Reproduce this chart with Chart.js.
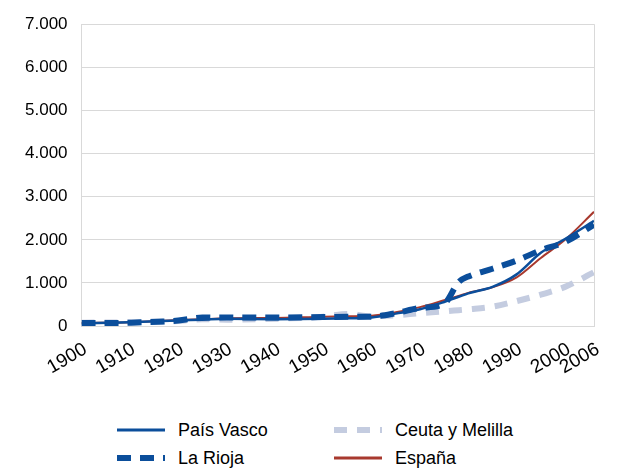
<!DOCTYPE html>
<html lang="es">
<head>
    <meta charset="UTF-8">
    <title>Evolución</title>
    <script src="https://cdn.jsdelivr.net/npm/chart.js"></script>
    <style>
        body {
            margin: 0;
            font-family: "Liberation Sans", Arial, sans-serif;
            background: #fff;
        }
        .chart-container {
            position: relative;
            width: 618px;
            height: 391px;
        }
        #legend {
            position: absolute;
            left: 117px;
            top: 416px;
            display: grid;
            grid-template-columns: 217px 200px;
            row-gap: 0;
        }
        .item {
            display: flex;
            align-items: center;
            height: 28px;
            font-size: 18px;
            color: #000;
        }
        .item svg {
            margin-right: 13px;
        }
    </style>
</head>
<body>
    <div class="chart-container">
        <canvas id="chart"></canvas>
    </div>
    <div id="legend"></div>

    <script>
        // años y valores
        const years        = [1900, 1910, 1920, 1925, 1930, 1940, 1950, 1955, 1960, 1965, 1970, 1975, 1978, 1980, 1985, 1990, 1995, 2000, 2006];
        const paisVasco    = [60, 90, 130, 150, 170, 160, 170, 180, 200, 290, 390, 560, 680, 760, 910, 1200, 1700, 2020, 2440];
        const laRioja      = [70, 80, 130, 200, 200, 200, 210, 215, 220, 300, 420, 520, 1020, 1150, 1330, 1520, 1760, 1950, 2350];
        const ceutaMelilla = [80, 90, 120, 160, 150, 170, 220, 280, 230, 250, 300, 340, 370, 390, 450, 580, 730, 910, 1250];
        const espana       = [70, 90, 140, 160, 180, 190, 220, 230, 240, 320, 440, 600, 700, 770, 900, 1130, 1580, 2000, 2650];
        const xTicks = [1900, 1910, 1920, 1930, 1940, 1950, 1960, 1970, 1980, 1990, 2000, 2006];

        const toPoints = arr => years.map((y, i) => ({ x: y, y: arr[i] }));

        const series = [
            { label: 'País Vasco', data: paisVasco, color: '#0b4e9b', width: 2.5, dash: [], order: 2 },
            { label: 'Ceuta y Melilla', data: ceutaMelilla, color: '#c4cce0', width: 6, dash: [13, 10], order: 4 },
            { label: 'La Rioja', data: laRioja, color: '#0b4e9b', width: 6, dash: [14, 9], order: 1 },
            { label: 'España', data: espana, color: '#a8392e', width: 2, dash: [], order: 3 }
        ];

        const grid = '#d9d9d9';
        const fmt = v => String(v).replace(/\B(?=(\d{3})+(?!\d))/g, '.');

        new Chart(document.getElementById('chart'), {
            type: 'line',
            data: {
                datasets: series.map(s => ({
                    label: s.label,
                    data: toPoints(s.data),
                    borderColor: s.color,
                    backgroundColor: s.color,
                    borderWidth: s.width,
                    borderDash: s.dash,
                    pointRadius: 0,
                    cubicInterpolationMode: 'monotone',
                    order: s.order
                }))
            },
            options: {
                responsive: true,
                maintainAspectRatio: false,
                animation: false,
                layout: { padding: { left: 11, right: 24, top: 14, bottom: 0 } },
                plugins: {
                    legend: { display: false },
                    tooltip: { enabled: false }
                },
                scales: {
                    x: {
                        type: 'linear',
                        min: 1900,
                        max: 2006,
                        afterBuildTicks: axis => { axis.ticks = xTicks.map(v => ({ value: v })); },
                        grid: {
                            drawTicks: false,
                            color: ctx => ctx.tick && ctx.tick.value === 2006 ? grid : 'rgba(0,0,0,0)'
                        },
                        border: { color: grid },
                        ticks: {
                            color: '#000',
                            font: { family: '"Liberation Sans", Arial', size: 19 },
                            autoSkip: false,
                            maxRotation: 30,
                            minRotation: 30,
                            padding: 12,
                            labelOffset: 4,
                            callback: v => String(v)
                        }
                    },
                    y: {
                        min: 0,
                        max: 7000,
                        grid: { color: grid, drawTicks: false },
                        border: { color: grid },
                        ticks: {
                            stepSize: 1000,
                            color: '#000',
                            font: { family: '"Liberation Sans", Arial', size: 17 },
                            padding: 14,
                            callback: v => fmt(v)
                        }
                    }
                }
            }
        });

        // leyenda en dos columnas
        const legendOrder = [0, 1, 2, 3];
        const legend = document.getElementById('legend');
        legendOrder.forEach(i => {
            const s = series[i];
            const item = document.createElement('div');
            item.className = 'item';
            item.innerHTML =
                '<svg width="48" height="8"><line x1="0" y1="4" x2="48" y2="4" stroke="' + s.color +
                '" stroke-width="' + Math.max(s.width, 3) + '" stroke-dasharray="' + s.dash.join(' ') + '"/></svg>' +
                '<span>' + s.label + '</span>';
            legend.appendChild(item);
        });
    </script>
</body>
</html>
